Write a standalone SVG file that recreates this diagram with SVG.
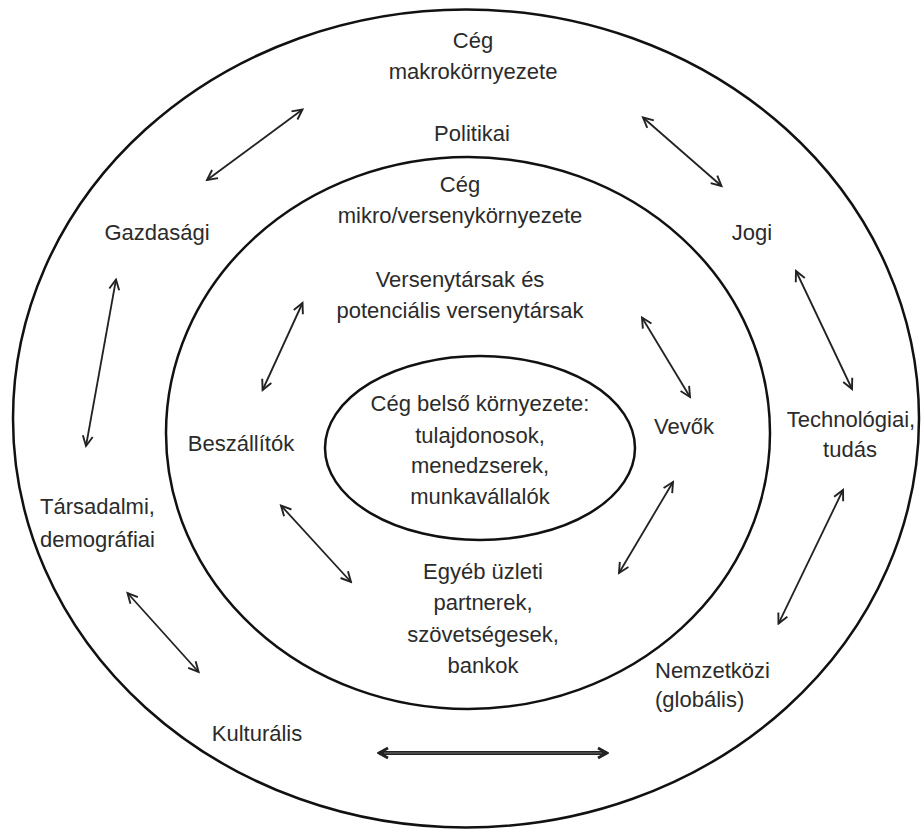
<svg xmlns="http://www.w3.org/2000/svg" width="921" height="830" viewBox="0 0 921 830">
<style>
.ring{fill:none;stroke:#111;stroke-width:2.5}
.t{font-family:"Liberation Sans",Arial,sans-serif;font-size:22px;fill:#2b2b2b;text-anchor:middle}
.tl{text-anchor:start}
.c{stroke:#222;stroke-width:1.8;fill:none;marker-start:url(#ah);marker-end:url(#ah)}
</style>
<defs>
<marker id="ah" markerUnits="userSpaceOnUse" markerWidth="14" markerHeight="14" viewBox="0 0 14 14" refX="12" refY="7" orient="auto-start-reverse">
<path d="M2,2 L12,7 L2,12" fill="none" stroke="#222" stroke-width="1.9"/>
</marker>
<marker id="ah2" markerUnits="userSpaceOnUse" markerWidth="14" markerHeight="14" viewBox="0 0 14 14" refX="12" refY="7" orient="auto-start-reverse">
<path d="M3,2 L12,7 L3,12" fill="none" stroke="#222" stroke-width="2.8"/>
</marker>
</defs>
<rect width="921" height="830" fill="#fff"/>
<g id="outer">
<ellipse class="ring" cx="466" cy="418.5" rx="453" ry="409"/>
<text class="t" x="473" y="48">Cég</text>
<text class="t" x="473" y="79">makrokörnyezete</text>
</g>
<g id="politikai"><text class="t" x="472" y="141">Politikai</text></g>
<g id="gazdasagi"><text class="t" x="157" y="240">Gazdasági</text></g>
<g id="jogi"><text class="t" x="752" y="240">Jogi</text></g>
<g id="technologiai"><text class="t" x="851" y="427">Technológiai,</text><text class="t" x="850" y="457">tudás</text></g>
<g id="tarsadalmi"><text class="t tl" x="40" y="514">Társadalmi,</text><text class="t tl" x="40" y="547">demográfiai</text></g>
<g id="nemzetkozi"><text class="t tl" x="655" y="678">Nemzetközi</text><text class="t tl" x="655" y="707">(globális)</text></g>
<g id="kulturalis"><text class="t" x="257" y="741">Kulturális</text></g>
<g id="micro">
<ellipse class="ring" cx="468" cy="433" rx="302" ry="276"/>
<text class="t" x="460" y="192">Cég</text>
<text class="t" x="460" y="223">mikro/versenykörnyezete</text>
</g>
<g id="versenytarsak"><text class="t" x="460" y="287">Versenytársak és</text><text class="t" x="460" y="318">potenciális versenytársak</text></g>
<g id="beszallitok"><text class="t" x="241" y="451">Beszállítók</text></g>
<g id="vevok"><text class="t" x="684" y="434">Vevők</text></g>
<g id="egyeb"><text class="t" x="483" y="579">Egyéb üzleti</text><text class="t" x="483" y="610">partnerek,</text><text class="t" x="483" y="642">szövetségesek,</text><text class="t" x="483" y="673">bankok</text></g>
<g id="inner">
<ellipse class="ring" cx="480" cy="448" rx="155" ry="92"/>
<text class="t" x="480" y="411">Cég belső környezete:</text>
<text class="t" x="480" y="443">tulajdonosok,</text>
<text class="t" x="480" y="473">menedzserek,</text>
<text class="t" x="480" y="504">munkavállalók</text>
</g>
<g id="connectors">
<line class="c" x1="207" y1="180" x2="302.5" y2="109.5"/>
<line class="c" x1="643" y1="117.5" x2="721.5" y2="186"/>
<line class="c" x1="116" y1="279.5" x2="86" y2="446"/>
<line class="c" x1="796" y1="271" x2="852" y2="389"/>
<line class="c" x1="302.5" y1="303" x2="262.6" y2="390"/>
<line class="c" x1="642" y1="317.5" x2="690" y2="397"/>
<line class="c" x1="281" y1="505.5" x2="351" y2="582"/>
<line class="c" x1="673" y1="482" x2="619" y2="573"/>
<line class="c" x1="843" y1="490" x2="778.5" y2="623.6"/>
<line class="c" x1="127.5" y1="593" x2="198.6" y2="672"/>
<line x1="379" y1="753" x2="607" y2="753" stroke="#222" stroke-width="4" marker-start="url(#ah2)" marker-end="url(#ah2)"/>
<line x1="384" y1="753" x2="602" y2="753" stroke="#707070" stroke-width="1.2"/>
</g>
</svg>
